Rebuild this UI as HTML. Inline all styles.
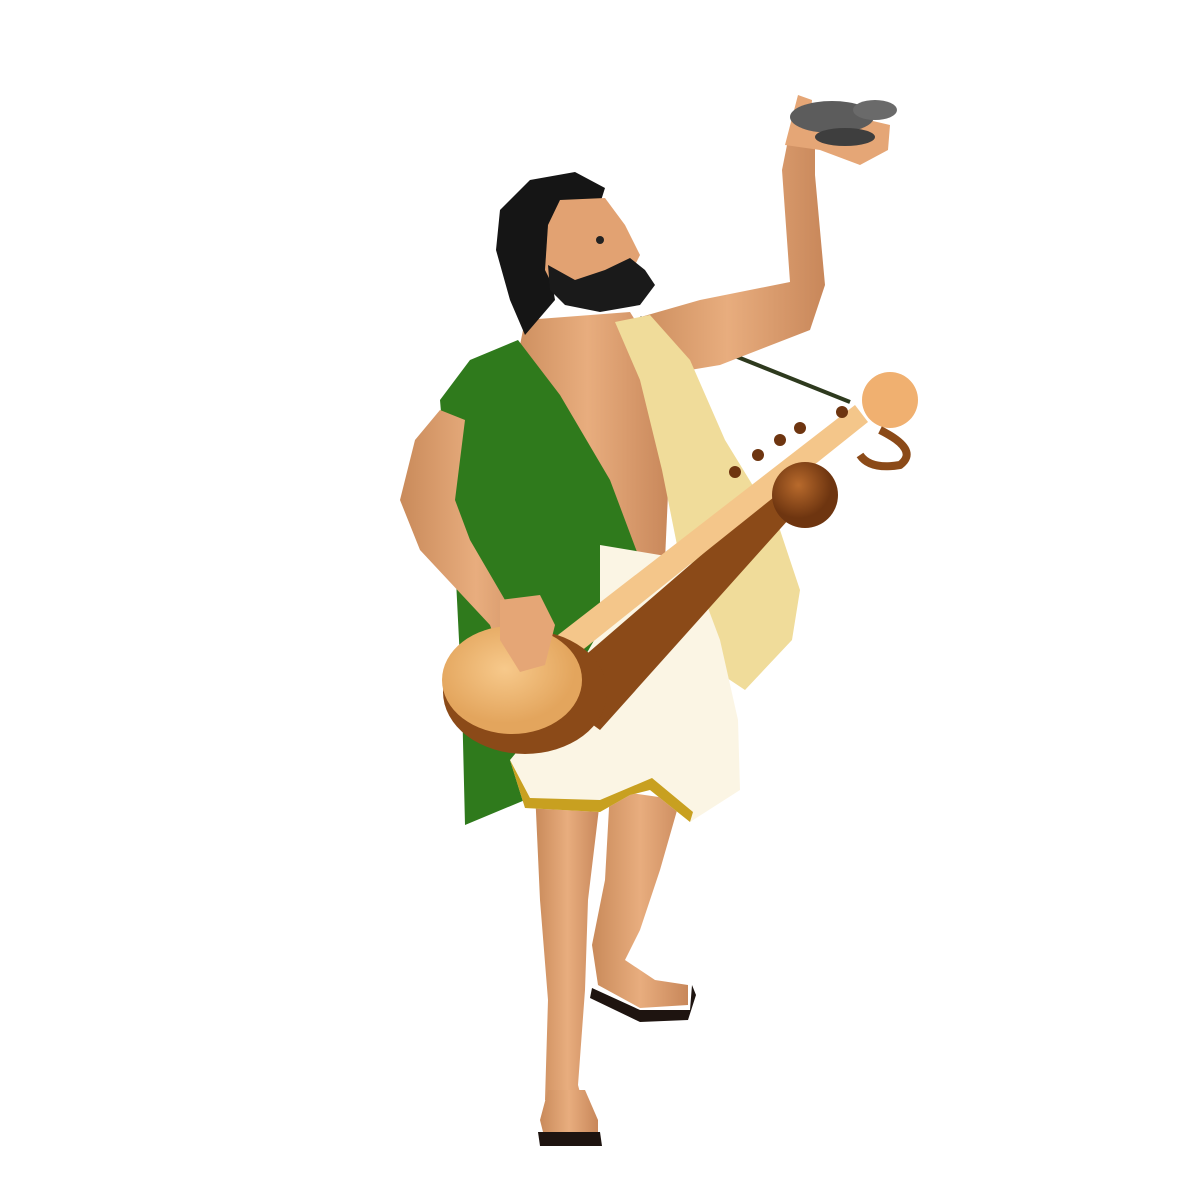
<!DOCTYPE html>
<html><head><meta charset="utf-8"><style>
html,body{margin:0;padding:0;background:#fff;width:1200px;height:1200px;overflow:hidden}
svg{display:block}
</style></head><body>
<svg width="1200" height="1200" viewBox="0 0 1200 1200">
<defs>
<linearGradient id="skin" x1="0" x2="1"><stop offset="0" stop-color="#c98a5a"/><stop offset="0.5" stop-color="#e8ad7e"/><stop offset="1" stop-color="#c8875a"/></linearGradient>
<radialGradient id="veenaBody" cx="0.45" cy="0.4"><stop offset="0" stop-color="#f7c98b"/><stop offset="1" stop-color="#e3a55d"/></radialGradient>
<radialGradient id="gourd" cx="0.4" cy="0.35"><stop offset="0" stop-color="#b86a2c"/><stop offset="1" stop-color="#6e3510"/></radialGradient>
</defs>
<path d="M640 318 L850 402" stroke="#2e3a1e" stroke-width="4" fill="none"/>
<g fill="url(#skin)">
<path d="M535 790 L600 800 L588 900 L585 990 L578 1085 L582 1100 L545 1100 L548 1000 L540 900 Z"/>
<path d="M610 790 L680 800 L660 870 L640 930 L625 960 L655 980 L688 985 L688 1005 L640 1008 L598 985 L592 945 L605 880 Z"/>
<path d="M548 1090 L585 1090 L598 1120 L598 1140 L545 1140 L540 1120 Z"/>
</g>
<g fill="#1e1410">
<path d="M538 1132 L600 1132 L602 1146 L540 1146 Z"/>
<path d="M592 988 L640 1010 L690 1010 L692 985 L696 995 L688 1020 L640 1022 L590 998 Z"/>
</g>
<path d="M525 320 L630 312 L660 360 L670 450 L665 560 L600 570 L540 520 L505 420 Z" fill="url(#skin)"/>
<path d="M630 320 L700 300 L790 282 L782 170 L790 130 L815 135 L815 175 L825 285 L810 330 L720 365 L660 375 Z" fill="url(#skin)"/>
<path d="M785 145 L798 95 L812 100 L810 125 L860 118 L890 125 L888 150 L860 165 L820 150 Z" fill="#e5a676"/>
<g>
<ellipse cx="832" cy="117" rx="42" ry="16" fill="#5c5c5c"/>
<ellipse cx="875" cy="110" rx="22" ry="10" fill="#6a6a6a"/>
<ellipse cx="845" cy="137" rx="30" ry="9" fill="#3e3e3e"/>
</g>
<path d="M615 322 L650 315 L690 360 L725 440 L780 530 L800 590 L792 640 L745 690 L700 660 L680 560 L662 470 L640 380 Z" fill="#f0dc9a"/>
<path d="M440 400 L470 360 L518 340 L560 395 L610 480 L640 560 L660 690 L630 705 L580 730 L525 800 L465 825 L462 700 L455 560 L445 460 Z" fill="#2f7a1c"/>
<path d="M440 410 L465 420 L455 500 L470 540 L505 600 L540 615 L552 640 L538 680 L505 668 L490 625 L420 550 L400 500 L415 440 Z" fill="url(#skin)"/>
<path d="M600 545 L690 560 L720 640 L738 720 L740 790 L690 822 L650 790 L630 795 L600 812 L525 808 L510 760 L560 700 L600 630 Z" fill="#fbf5e4"/>
<path d="M510 760 L525 808 L600 812 L630 795 L650 790 L690 822 L693 812 L652 778 L600 800 L530 798 Z" fill="#c8a020"/>
<g>
<path d="M545 690 L800 470 L815 490 L600 730 Z" fill="#8b4a18"/>
<path d="M545 645 L855 405 L868 422 L555 672 Z" fill="#f4c68a"/>
<ellipse cx="525" cy="692" rx="82" ry="62" fill="#8b4a18"/>
<ellipse cx="512" cy="680" rx="70" ry="54" fill="url(#veenaBody)"/>
<circle cx="805" cy="495" r="33" fill="url(#gourd)"/>
<circle cx="890" cy="400" r="28" fill="#f0b070"/>
<path d="M880 430 Q920 450 900 465 Q870 470 860 455" stroke="#8b4a18" stroke-width="8" fill="none"/>
<g fill="#6e3510"><circle cx="735" cy="472" r="6"/><circle cx="758" cy="455" r="6"/><circle cx="780" cy="440" r="6"/><circle cx="800" cy="428" r="6"/><circle cx="842" cy="412" r="6"/></g>
</g>
<path d="M500 600 L540 595 L555 625 L545 665 L520 672 L500 640 Z" fill="#e5a676"/>
<path d="M500 210 L530 180 L575 172 L605 188 L598 210 L560 230 L550 270 L555 300 L525 335 L510 300 L496 250 Z" fill="#151515"/>
<path d="M560 200 L605 198 L625 225 L640 255 L630 275 L600 300 L560 300 L545 270 L548 225 Z" fill="#e2a272"/>
<path d="M548 265 L575 280 L605 270 L630 258 L645 270 L655 285 L640 305 L600 312 L565 305 L550 290 Z" fill="#1a1a1a"/>
<circle cx="600" cy="240" r="4" fill="#222"/>
</svg>
</body></html>
